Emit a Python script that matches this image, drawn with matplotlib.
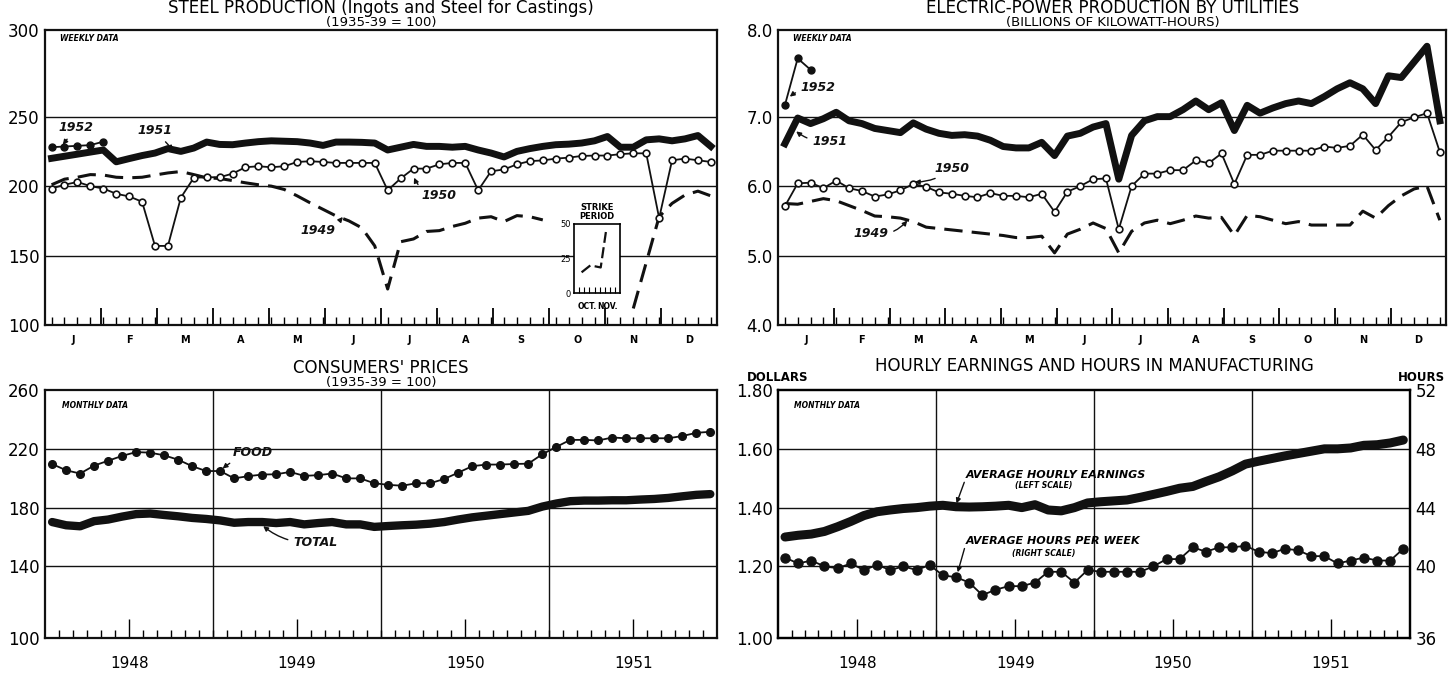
import numpy as np
import matplotlib.pyplot as plt

plt.rcParams['font.family'] = 'DejaVu Sans'

nan = np.nan

# ---- calendar labels ----
month_letters = ['J', 'F', 'M', 'A', 'M', 'J', 'J', 'A', 'S', 'O', 'N', 'D']
year_labels = ['1948', '1949', '1950', '1951']

# ---- steel production, weekly index (1935-39 = 100) ----
steel_1952 = [228, 228.5, 229, 229.5, 232]
steel_1951 = [220, 221.5, 223, 224.5, 226, 217.5, 219.8, 222, 223.8, 227,
              225, 227.4, 231.7, 230, 229.8, 231, 232, 232.6, 232.3, 232,
              231, 229.3, 231.7, 231.7, 231.5, 231, 226, 228, 230, 228.6,
              228.6, 228, 228.6, 226, 223.8, 221, 225, 227, 228.6, 229.8,
              230.2, 231, 232.6, 235.7, 228, 228, 233.3, 234, 232.6, 234,
              236.4, 228.6]
steel_1950 = [198.3, 201, 203, 200, 198.3, 194.5, 192.6, 188.8, 157, 157,
              191.7, 206, 206.4, 206.4, 209, 213.6, 214.3, 213.6, 214.3, 217.4,
              217.9, 217.4, 216.7, 216.7, 216.7, 216.7, 197, 205.5, 212.6, 212.6,
              215.7, 216.7, 216.7, 197, 210.7, 212, 215.7, 218, 218.5, 219.8,
              220.5, 221.7, 222, 222, 223, 223.6, 223.6, 177, 218.6, 219.8,
              218.6, 217.4]
steel_1949 = [201, 205, 206.4, 208.3, 208, 206.4, 206, 206.4, 208, 209.5,
              210.5, 208.3, 206, 205.5, 204, 202.4, 201, 200, 197.6, 193,
              188, 183.3, 178.6, 175, 170, 157, 126, 160, 162, 167.4,
              168, 171, 173.3, 177, 178, 174.5, 178.8, 178, 175.7, nan,
              nan, nan, nan, nan, nan, 112, 145, 178, 187.6, 193.6,
              196.4, 193]
strike_weeks = [1.5, 3.2, 5.2, 6.2]
strike_values = [15, 20, 18.5, 44]

# ---- electric power, weekly (billions of kWh) ----
elec_1952 = [7.13, 7.67, 7.54]
elec_1951 = [6.61, 6.98, 6.90, 6.97, 7.05, 6.94, 6.90, 6.83, 6.80, 6.77,
             6.91, 6.82, 6.76, 6.73, 6.74, 6.72, 6.66, 6.57, 6.55, 6.55,
             6.63, 6.44, 6.72, 6.76, 6.85, 6.90, 6.10, 6.73, 6.94, 7.00,
             7.00, 7.08, 7.18, 7.08, 7.16, 6.80, 7.13, 7.04, 7.10, 7.15,
             7.18, 7.15, 7.23, 7.32, 7.39, 7.32, 7.15, 7.47, 7.45, 7.63,
             7.81, 6.94]
elec_1950 = [5.71, 6.04, 6.05, 5.97, 6.08, 5.97, 5.93, 5.85, 5.88, 5.94,
             6.03, 5.99, 5.91, 5.89, 5.86, 5.84, 5.90, 5.86, 5.86, 5.84,
             5.89, 5.63, 5.92, 6.00, 6.10, 6.11, 5.38, 6.00, 6.18, 6.18,
             6.23, 6.23, 6.37, 6.33, 6.47, 6.03, 6.45, 6.45, 6.51, 6.51,
             6.51, 6.51, 6.57, 6.55, 6.58, 6.74, 6.52, 6.71, 6.92, 6.99,
             7.04, 6.49]
elec_1949 = [5.75, 5.74, 5.78, 5.82, 5.79, 5.72, 5.65, 5.57, 5.56, 5.54,
             5.49, 5.41, 5.39, 5.37, 5.35, 5.33, 5.31, 5.29, 5.26, 5.26,
             5.28, 5.04, 5.31, 5.38, 5.47, 5.39, 5.04, 5.35, 5.47, 5.51,
             5.46, 5.51, 5.57, 5.54, 5.55, 5.29, 5.58, 5.56, 5.51, 5.46,
             5.49, 5.44, 5.44, 5.44, 5.44, 5.64, 5.54, 5.72, 5.86, 5.96,
             6.00, 5.51]

# ---- consumers' prices, monthly 1948-1951 ----
cpi_food = [209.7, 205.4, 203.2, 208.6, 211.9, 215.2, 217.8, 217.4, 215.6, 212.6, 208.2, 204.9,
            204.9, 199.9, 201.4, 202.5, 202.7, 204.3, 201.6, 202.1, 203.2, 199.9, 199.9, 196.6,
            195.5, 194.9, 196.6, 196.6, 199.5, 203.8, 208.2, 209.3, 209.3, 209.7, 209.9, 216.3,
            221.3, 226.1, 226.1, 225.7, 227.7, 227.2, 227.2, 227.2, 227.2, 228.7, 230.9, 231.6]
cpi_total = [170.2, 168.0, 167.3, 170.8, 171.9, 173.9, 175.6, 176.0, 175.0, 174.1, 173.0, 172.3,
             171.3, 169.7, 170.2, 170.2, 169.5, 170.2, 168.6, 169.5, 170.2, 168.6, 168.6, 166.9,
             167.5, 168.0, 168.4, 169.1, 170.2, 171.9, 173.4, 174.5, 175.6, 176.7, 177.8, 180.7,
             182.8, 184.4, 184.8, 184.8, 185.0, 185.0, 185.5, 185.9, 186.6, 187.7, 188.7, 189.2]

# ---- manufacturing, monthly 1948-1951 ----
hourly_earnings = [1.300, 1.306, 1.310, 1.319, 1.335, 1.353, 1.373, 1.386, 1.392, 1.397, 1.400, 1.405,
                   1.408, 1.403, 1.402, 1.403, 1.405, 1.408, 1.400, 1.410, 1.392, 1.389, 1.400, 1.416,
                   1.420, 1.423, 1.426, 1.435, 1.445, 1.455, 1.466, 1.472, 1.489, 1.505, 1.525, 1.548,
                   1.558, 1.567, 1.576, 1.584, 1.592, 1.600, 1.600, 1.603, 1.612, 1.614, 1.620, 1.630]
weekly_hours = [40.6, 40.2, 40.4, 40.0, 39.9, 40.2, 39.8, 40.1, 39.8, 40.0, 39.8, 40.1,
                39.5, 39.4, 39.1, 38.4, 38.7, 38.9, 38.9, 39.1, 39.7, 39.7, 39.1, 39.8,
                39.7, 39.7, 39.7, 39.7, 40.0, 40.5, 40.5, 41.3, 41.0, 41.3, 41.3, 41.4,
                41.0, 40.9, 41.2, 41.1, 40.7, 40.7, 40.2, 40.4, 40.6, 40.4, 40.4, 41.2]

INK = '#111111'


def stretched(ax, pivot, k, above=True):
    # the printed chart gives its outer grid band a little more room than the others
    if above:
        fwd = lambda v: np.where(np.asarray(v) > pivot, pivot + (np.asarray(v) - pivot) * k, v)
        inv = lambda u: np.where(np.asarray(u) > pivot, pivot + (np.asarray(u) - pivot) / k, u)
    else:
        fwd = lambda v: np.where(np.asarray(v) < pivot, pivot - (pivot - np.asarray(v)) * k, v)
        inv = lambda u: np.where(np.asarray(u) < pivot, pivot - (pivot - np.asarray(u)) / k, u)
    ax.set_yscale('function', functions=(fwd, inv))


def label(ax, x, y, text, tx, ty, size=9, rad=0.2, **kw):
    ax.annotate(text, xy=(x, y), xytext=(tx, ty), fontsize=size, fontstyle='italic',
                fontweight='bold', color=INK, ha='center', va='center',
                arrowprops=dict(arrowstyle='-|>', lw=1.0, color=INK, mutation_scale=7,
                                shrinkA=2, shrinkB=1, connectionstyle=f'arc3,rad={rad}'), **kw)


def style_frame(ax):
    for s in ax.spines.values():
        s.set_linewidth(1.6)
        s.set_color(INK)
    ax.tick_params(axis='y', which='both', length=0, labelsize=12, pad=4)


def weekly_axis(ax, ylim, yticks, fmt):
    n = 52
    ax.set_xlim(-0.5, n - 0.5)
    stretched(ax, yticks[-2], 1.25, above=True)
    ax.set_ylim(*ylim)
    style_frame(ax)
    ax.set_yticks(yticks)
    ax.set_yticklabels([fmt.format(v) for v in yticks])
    ax.set_yticks([], minor=True)
    for v in yticks[1:-1]:
        ax.axhline(v, color=INK, lw=1.0, zorder=1)
    per_month = n / 12
    bounds = [k * per_month - 0.5 for k in range(1, 12)]
    ax.set_xticks(bounds)
    ax.set_xticks(range(n), minor=True)
    ax.tick_params(axis='x', which='major', direction='in', length=12, width=1.3,
                   labelbottom=False)
    ax.tick_params(axis='x', which='minor', direction='in', length=6, width=1.0)
    for k, m in enumerate(month_letters):
        ax.text((k + 0.5) * per_month - 0.5, -0.035, m, transform=ax.get_xaxis_transform(),
                ha='center', va='top', fontsize=7, fontweight='bold')
    ax.text(0.022, 0.985, 'WEEKLY DATA', transform=ax.transAxes, fontsize=5.5,
            fontstyle='italic', fontweight='bold', va='top')


def monthly_axis(ax, ylim, yticks, fmt):
    ax.set_xlim(0, 48)
    stretched(ax, yticks[1], 1.22, above=False)
    ax.set_ylim(*ylim)
    style_frame(ax)
    ax.set_yticks(yticks)
    ax.set_yticklabels([fmt.format(v) for v in yticks])
    ax.set_yticks([], minor=True)
    for v in yticks[1:-1]:
        ax.axhline(v, color=INK, lw=1.0, zorder=1)
    for b in (12, 24, 36):
        ax.axvline(b, color=INK, lw=1.0, zorder=1)
    ax.set_xticks([6, 18, 30, 42])
    ax.set_xticklabels(year_labels)
    ax.set_xticks(range(1, 48), minor=True)
    ax.tick_params(axis='x', which='major', direction='in', length=14, width=1.0,
                   labelsize=11, pad=13)
    ax.tick_params(axis='x', which='minor', direction='in', length=6, width=1.0)
    ax.text(0.025, 0.955, 'MONTHLY DATA', transform=ax.transAxes, fontsize=5.5,
            fontstyle='italic', fontweight='bold', va='top')


fig = plt.figure(figsize=(14.55, 6.76), dpi=100)
ax1 = fig.add_axes([0.031, 0.519, 0.462, 0.437])
ax2 = fig.add_axes([0.535, 0.519, 0.459, 0.437])
ax3 = fig.add_axes([0.031, 0.056, 0.462, 0.367])
ax4 = fig.add_axes([0.535, 0.056, 0.434, 0.367])

weeks = np.arange(52)
months = np.arange(48) + 0.5

# ---------------- steel ----------------
weekly_axis(ax1, (100, 300), [100, 150, 200, 250, 300], '{:.0f}')
ax1.plot(weeks, steel_1949, color=INK, lw=2.2, ls=(0, (6, 3)), zorder=3)
ax1.plot(weeks, steel_1950, color=INK, lw=1.3, marker='o', ms=4.8, mfc='white',
         mec=INK, mew=1.2, zorder=4)
ax1.plot(weeks, steel_1951, color=INK, lw=5, solid_joinstyle='round', zorder=5)
ax1.plot(weeks[:len(steel_1952)], steel_1952, color=INK, lw=1.3, marker='o', ms=5, zorder=5)
ax1.text(0.5, 1.072, 'STEEL PRODUCTION (Ingots and Steel for Castings)', transform=ax1.transAxes,
         ha='center', va='center', fontsize=12)
ax1.text(0.5, 1.026, '(1935-39 = 100)', transform=ax1.transAxes, ha='center', va='center',
         fontsize=9.5)
label(ax1, 0.8, 229, '1952', 1.9, 242, rad=0.0)
label(ax1, 9.5, 225, '1951', 8.0, 240, rad=0.0)
label(ax1, 28.0, 207, '1950', 30.0, 193, rad=-0.3)
label(ax1, 22.6, 178.6, '1949', 20.6, 168, rad=0.2)

ins = ax1.inset_axes([40.4, 123, 3.6, 50], transform=ax1.transData)
ins.set_xlim(0, 9)
ins.set_ylim(0, 50)
ins.plot(strike_weeks, strike_values, color=INK, lw=1.6, ls=(0, (5, 2)))
ins.set_yticks([0, 25, 50])
ins.tick_params(axis='y', length=0, labelsize=6, pad=2)
ins.set_xticks(range(1, 9))
ins.set_xticklabels([])
ins.tick_params(axis='x', direction='in', length=4, width=0.8)
for s in ins.spines.values():
    s.set_linewidth(1.2)
ins.text(2.5, -6, 'OCT.', ha='center', va='top', fontsize=5.5, fontweight='bold')
ins.text(6.5, -6, 'NOV.', ha='center', va='top', fontsize=5.5, fontweight='bold')
ins.text(4.5, 52, 'STRIKE\nPERIOD', ha='center', va='bottom', fontsize=6,
         fontweight='bold', linespacing=1.0)

# ---------------- electric power ----------------
weekly_axis(ax2, (4.0, 8.0), [4.0, 5.0, 6.0, 7.0, 8.0], '{:.1f}')
ax2.plot(weeks, elec_1949, color=INK, lw=2.2, ls=(0, (6, 3)), zorder=3)
ax2.plot(weeks, elec_1950, color=INK, lw=1.3, marker='o', ms=4.8, mfc='white',
         mec=INK, mew=1.2, zorder=4)
ax2.plot(weeks, elec_1951, color=INK, lw=5, solid_joinstyle='round', zorder=5)
ax2.plot(weeks[:len(elec_1952)], elec_1952, color=INK, lw=1.3, marker='o', ms=5, zorder=5)
ax2.text(0.5, 1.072, 'ELECTRIC-POWER PRODUCTION BY UTILITIES', transform=ax2.transAxes,
         ha='center', va='center', fontsize=12)
ax2.text(0.5, 1.026, '(BILLIONS OF KILOWATT-HOURS)', transform=ax2.transAxes, ha='center',
         va='center', fontsize=9.5)
label(ax2, 0.3, 7.22, '1952', 2.6, 7.33, rad=0.2)
label(ax2, 0.8, 6.80, '1951', 3.5, 6.64, rad=-0.2)
label(ax2, 10.0, 6.06, '1950', 13.0, 6.26, rad=-0.2)
label(ax2, 9.6, 5.52, '1949', 6.7, 5.32, rad=0.3)

# ---------------- consumers' prices ----------------
monthly_axis(ax3, (100, 260), [100, 140, 180, 220, 260], '{:.0f}')
ax3.plot(months, cpi_total, color=INK, lw=6, solid_capstyle='round', zorder=4)
ax3.plot(months, cpi_food, color=INK, lw=1.3, marker='o', ms=5.5, zorder=4)
ax3.text(0.5, 1.089, "CONSUMERS' PRICES", transform=ax3.transAxes, ha='center', va='center',
         fontsize=12)
ax3.text(0.5, 1.032, '(1935-39 = 100)', transform=ax3.transAxes, ha='center', va='center',
         fontsize=9.5)
label(ax3, 12.6, 206, 'FOOD', 14.8, 217.5, rad=0.1)
label(ax3, 15.5, 168, 'TOTAL', 19.3, 156, rad=-0.2)

# ---------------- hourly earnings & hours ----------------
monthly_axis(ax4, (1.0, 1.8), [1.0, 1.2, 1.4, 1.6, 1.8], '{:.2f}')
ax4.plot(months, hourly_earnings, color=INK, lw=6.5, solid_capstyle='round', zorder=4)
ax4r = ax4.twinx()
stretched(ax4r, 40, 1.22, above=False)
ax4r.set_ylim(36, 52)
ax4r.set_yticks([36, 40, 44, 48, 52])
ax4r.set_yticks([], minor=True)
ax4r.tick_params(axis='y', which='both', length=0, labelsize=12, pad=4)
for s in ax4r.spines.values():
    s.set_linewidth(1.6)
ax4r.plot(months, weekly_hours, color=INK, lw=1.3, marker='o', ms=6.5, zorder=4)
ax4.text(0.5, 1.097, 'HOURLY EARNINGS AND HOURS IN MANUFACTURING', transform=ax4.transAxes,
         ha='center', va='center', fontsize=12)
ax4.text(-0.05, 1.05, 'DOLLARS', transform=ax4.transAxes, ha='left', va='center',
         fontsize=8.5, fontweight='bold')
ax4.text(1.055, 1.05, 'HOURS', transform=ax4.transAxes, ha='right', va='center',
         fontsize=8.5, fontweight='bold')
label(ax4, 13.5, 1.41, '', 14.2, 1.495, rad=0.0)
ax4.text(14.2, 1.51, 'AVERAGE HOURLY EARNINGS', fontsize=8, fontstyle='italic',
         fontweight='bold', ha='left', va='center')
ax4.text(20.2, 1.475, '(LEFT SCALE)', fontsize=5.5, fontstyle='italic',
         fontweight='bold', ha='center', va='center')
label(ax4, 13.6, 1.18, '', 14.2, 1.27, rad=0.0)
ax4.text(14.2, 1.285, 'AVERAGE HOURS PER WEEK', fontsize=8, fontstyle='italic',
         fontweight='bold', ha='left', va='center')
ax4.text(20.2, 1.245, '(RIGHT SCALE)', fontsize=5.5, fontstyle='italic',
         fontweight='bold', ha='center', va='center')

fig.savefig('out.png', dpi=100, facecolor='white')
